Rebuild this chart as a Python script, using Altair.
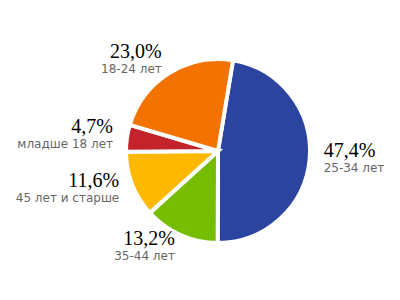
import math
import altair as alt
import pandas as pd

categories = ["25-34 лет", "35-44 лет", "45 лет и старше", "младше 18 лет", "18-24 лет"]
values = [47.4, 13.2, 11.6, 4.7, 23.0]
labels = ["47,4%", "13,2%", "11,6%", "4,7%", "23,0%"]
colors = ["#2A44A0", "#76BC00", "#FFB800", "#C3232A", "#F37200"]

df = pd.DataFrame({
    "cat": categories,
    "value": values,
    "pct": labels,
    "idx": list(range(len(values))),
})

start = math.radians(9.4)
tscale = alt.Scale(range=[start, start + 2 * math.pi])
order = alt.Order("idx:Q", sort="ascending")

base = alt.Chart(df)

arcs = base.mark_arc(outerRadius=92, stroke="white", strokeWidth=4).encode(
    theta=alt.Theta("value:Q", stack=True, scale=tscale),
    color=alt.Color("cat:N", scale=alt.Scale(domain=categories, range=colors), legend=None),
    order=order,
)

lab = base.transform_window(
    cum="sum(value)", sort=[alt.SortField("idx", order="ascending")]
).transform_joinaggregate(
    total="sum(value)"
).transform_calculate(
    mid="datum.cum - datum.value / 2",
    side="(datum.cum - datum.value / 2) / datum.total > 0.5 ? 'left' : 'right'",
)

def pct_layer(side, align):
    return lab.transform_filter(alt.datum.side == side).mark_text(
        radius=106, align=align, baseline="alphabetic", dy=-3,
        font="Liberation Serif", fontSize=20, color="#000000",
    ).encode(theta=alt.Theta("mid:Q", stack=None, scale=tscale), text="pct:N")

def sub_layer(side, align):
    return lab.transform_filter(alt.datum.side == side).mark_text(
        radius=106, align=align, baseline="top", dy=3,
        font="DejaVu Sans", fontSize=12, color="#666666",
    ).encode(theta=alt.Theta("mid:Q", stack=None, scale=tscale), text="cat:N")

chart = alt.layer(
    arcs,
    pct_layer("right", "left"), pct_layer("left", "right"),
    sub_layer("right", "left"), sub_layer("left", "right"),
).properties(
    width=364, height=298,
    padding={"left": 36, "top": 2, "right": 0, "bottom": 0},
    autosize=alt.AutoSizeParams(type="none"),
).configure_view(stroke=None)

chart.save("out.html", embed_options={"renderer": "svg", "actions": False})
